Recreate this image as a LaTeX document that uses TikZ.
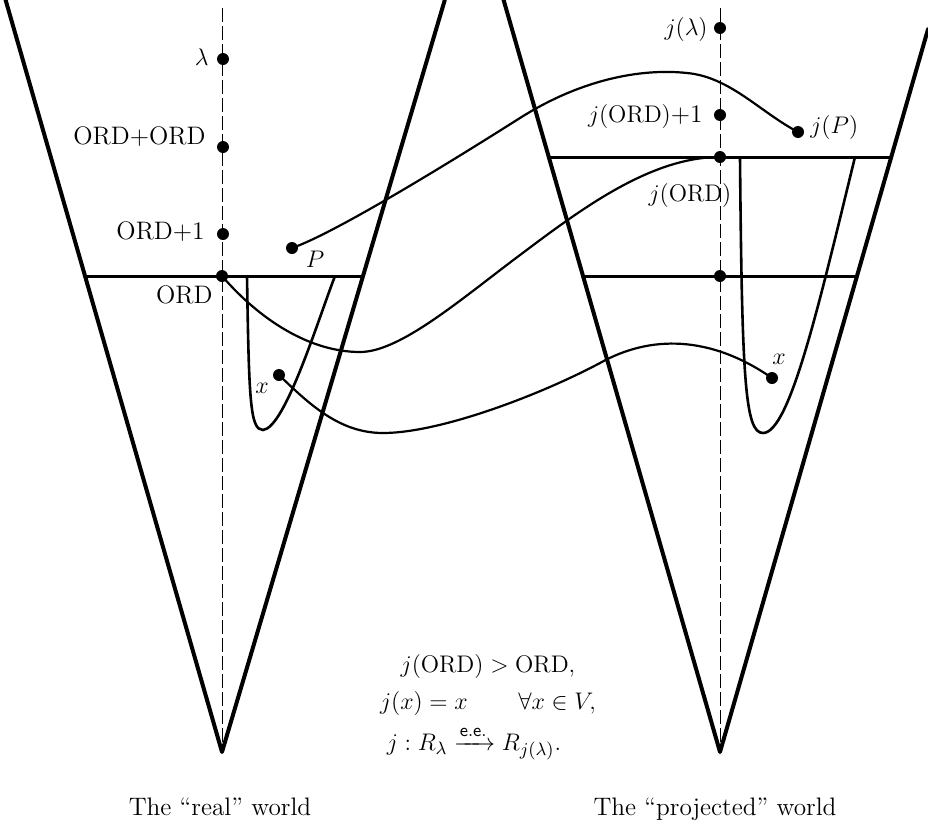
\documentclass[tikz,border=0pt]{standalone}
\usepackage{amsmath}
\begin{document}
\begin{tikzpicture}[x=0.5pt,y=-0.5pt,
  every node/.style={font=\fontsize{12.65}{15}\selectfont, inner sep=0pt},
  cone/.style={line width=2pt, line join=round, line cap=round},
  level/.style={line width=1.5pt},
  axisline/.style={line width=0.5pt, dash pattern=on 7pt off 2pt},
  curve/.style={line width=1.1pt},
  ushape/.style={line width=1.3pt},
  dot/.style={circle, fill=black, minimum size=6pt, inner sep=0pt},
]
\useasboundingbox (0,0) rectangle (928,825);
% key points
\coordinate (vL) at (222,752);
\coordinate (tLl) at (5.6,0);
\coordinate (tLr) at (444.8,0);
\coordinate (vR) at (720,752);
\coordinate (tRl) at (503.6,0);
\coordinate (tRr) at (928,29.3);
\coordinate (aLt) at (222,8);
\coordinate (aRt) at (720,8);
\coordinate (hLa) at (85,276);
\coordinate (hLb) at (363,276);
\coordinate (hRa) at (549,157);
\coordinate (hRb) at (891,157);
\coordinate (hRc) at (583,276);
\coordinate (hRd) at (857,276);
\coordinate (lam) at (223,59);
\coordinate (oo) at (223,147);
\coordinate (o1) at (223,234);
\coordinate (ordL) at (222,276);
\coordinate (P) at (292,248);
\coordinate (xL) at (279,375);
\coordinate (jlam) at (720,28);
\coordinate (jo1) at (720,115);
\coordinate (jord) at (720,157);
\coordinate (ordR) at (720,276);
\coordinate (jP) at (798,132);
\coordinate (xR) at (772,378);
\coordinate (uL1) at (247,276);
\coordinate (uLb) at (263,430);
\coordinate (uL2) at (335,276);
\coordinate (uR1) at (740,157);
\coordinate (uRb) at (763,433);
\coordinate (uR2) at (855,157);
\coordinate (c1) at (360,352);
\coordinate (c2) at (520,255);
\coordinate (c3) at (383,433);
\coordinate (c4) at (600,363);
\coordinate (c5) at (520,118);
\coordinate (c6) at (687,73);

% axes
\draw[axisline] (aLt) -- (vL);
\draw[axisline] (aRt) -- (vR);
% cones
\draw[cone] (tLl) -- (vL) -- (tLr);
\draw[cone] (tRl) -- (vR) -- (tRr);
% levels
\draw[level] (hLa) -- (hLb);
\draw[level] (hRa) -- (hRb);
\draw[level] (hRc) -- (hRd);
% U shapes
\draw[ushape] (uL1) .. controls (249,400) and (250,430) .. (uLb)
  .. controls (285,428) and (318,320) .. (uL2);
\draw[ushape] (uR1) .. controls (742,380) and (745,433) .. (uRb)
  .. controls (790,433) and (820,300) .. (uR2);
% connecting curves
\draw[curve] (ordL) .. controls (260,320) and (310,352) .. (c1)
  .. controls (400,352) and (460,300) .. (c2)
  .. controls (580,210) and (650,157) .. (jord);
\draw[curve] (xL) .. controls (310,405) and (340,433) .. (c3)
  .. controls (440,433) and (540,395) .. (c4)
  .. controls (650,335) and (710,335) .. (xR);
\draw[curve] (P) .. controls (330,235) and (430,175) .. (c5)
  .. controls (580,80) and (640,68) .. (c6)
  .. controls (730,77) and (760,112) .. (jP);
% dots
\foreach \p in {lam,oo,o1,ordL,P,xL,jlam,jo1,jord,ordR,jP,xR}
  \node[dot] (d\p) at (\p) {};
% labels
\node[anchor=east] (llam) at (209,57) {$\lambda$};
\node[anchor=east] (loo) at (206,137) {ORD+ORD};
\node[anchor=east] (lo1) at (205,232) {ORD+1};
\node[anchor=east] (lordL) at (213,295) {ORD};
\node (lP) at (315,259) {$P$};
\node (lxL) at (262,388) {$x$};
\node[anchor=east] (ljlam) at (708,29) {$j(\lambda)$};
\node[anchor=east] (ljo1) at (703,116) {$j(\mathrm{ORD})$+1};
\node[anchor=west] (ljP) at (810,127) {$j(P)$};
\node (ljord) at (690,195) {$j(\mathrm{ORD})$};
\node (lxR) at (779,359) {$x$};
% formulas
\node[anchor=base] (f1) at (488,672) {$j(\mathrm{ORD}) > \mathrm{ORD},$};
\node[anchor=base] (f2) at (488,709) {$j(x) = x \qquad \forall x \in V,$};
\node[anchor=base] (f3) at (474,750) {$j : R_\lambda \mathrel{\smash{\xrightarrow{\mathsf{e.e.}}}} R_{j(\lambda)}.$};
% captions
\node[anchor=base] (capL) at (220,815) {The ``real'' world};
\node[anchor=base] (capR) at (715,815) {The ``projected'' world};
\end{tikzpicture}
\end{document}
